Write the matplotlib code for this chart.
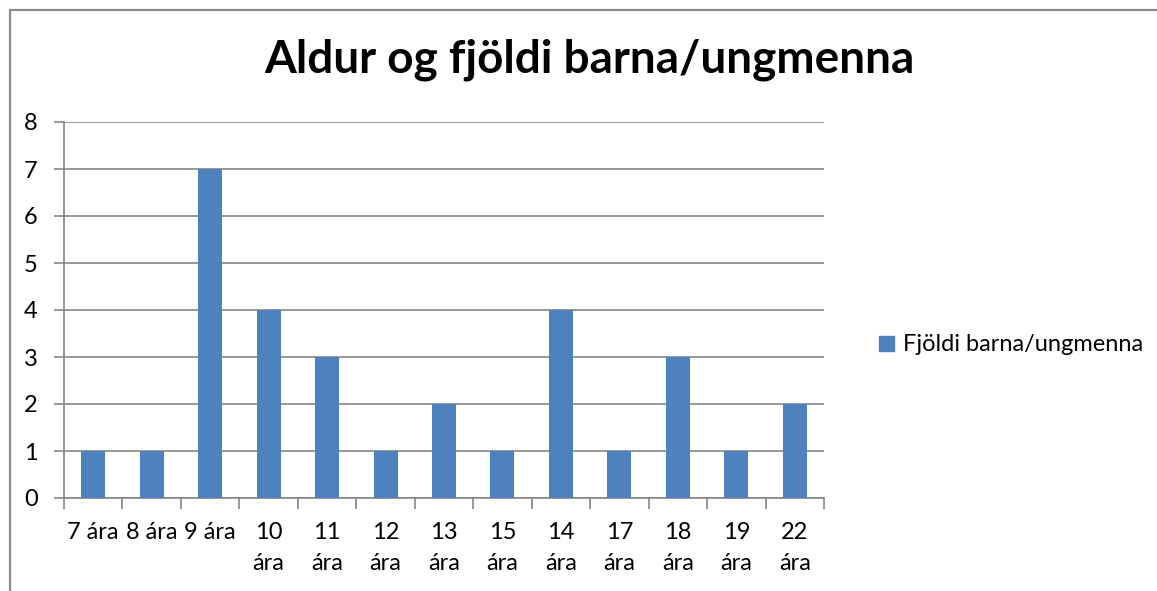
import matplotlib
matplotlib.use("Agg")
import matplotlib.pyplot as plt
from matplotlib.patches import Rectangle, Patch

categories = ["7 ára", "8 ára", "9 ára", "10\nára", "11\nára", "12\nára", "13\nára",
              "15\nára", "14\nára", "17\nára", "18\nára", "19\nára", "22\nára"]
values = [1, 1, 7, 4, 3, 1, 2, 1, 4, 1, 3, 1, 2]
series_name = "Fjöldi barna/ungmenna"
title = "Aldur og fjöldi barna/ungmenna"
yticks = [0, 1, 2, 3, 4, 5, 6, 7, 8]

plt.rcParams['font.family'] = ['Lato', 'DejaVu Sans']
W, H = 1157, 591
fig = plt.figure(figsize=(W / 100, H / 100), dpi=100)
ax = fig.add_axes([64 / W, 1 - 498 / H, (824 - 64) / W, (498 - 122) / H])

bar_color = "#4F81BD"
grid_color = "#868686"
fs = 17
x = list(range(len(categories)))
ax.bar(x, values, width=0.41, color=bar_color, zorder=3)
ax.set_xlim(-0.5, len(categories) - 0.5)
ax.set_ylim(0, 8)
ax.set_yticks(yticks)
ax.set_yticklabels([str(v) for v in yticks], fontsize=fs, color="black")
ax.yaxis.grid(True, color=grid_color, linewidth=1.2, zorder=0)
ax.set_axisbelow(True)

ax.set_xticks([i - 0.5 for i in range(len(categories) + 1)])
ax.set_xticklabels([])
ax.set_xticks(x, minor=True)
ax.set_xticklabels(categories, minor=True, fontsize=fs, linespacing=1.6, va="top")
ax.tick_params(axis="x", which="minor", length=0, pad=17)
ax.tick_params(axis="x", which="major", length=8, width=1.2, color=grid_color)
ax.tick_params(axis="y", length=7, width=1.2, color=grid_color, pad=12)

for s in ["top", "right"]:
    ax.spines[s].set_visible(False)
for s in ["left", "bottom"]:
    ax.spines[s].set_color(grid_color)
    ax.spines[s].set_linewidth(1.2)

fig.text(589 / W, 1 - 60 / H, title, ha="center", va="center",
         fontsize=33, fontweight="bold", color="black")

leg = fig.legend(handles=[Patch(color=bar_color, label=series_name)],
                 loc="center left", bbox_to_anchor=(858 / W, 1 - 345 / H),
                 frameon=False, fontsize=fs, handlelength=0.62, handleheight=0.62,
                 handletextpad=0.4)

fig.patches.append(Rectangle((9.5 / W, -0.1), 1.2, 1 - 9.5 / H + 0.1,
                             transform=fig.transFigure, fill=False,
                             edgecolor="#8c8c8c", linewidth=1.6, clip_on=False))

fig.savefig("out.png", dpi=100)
